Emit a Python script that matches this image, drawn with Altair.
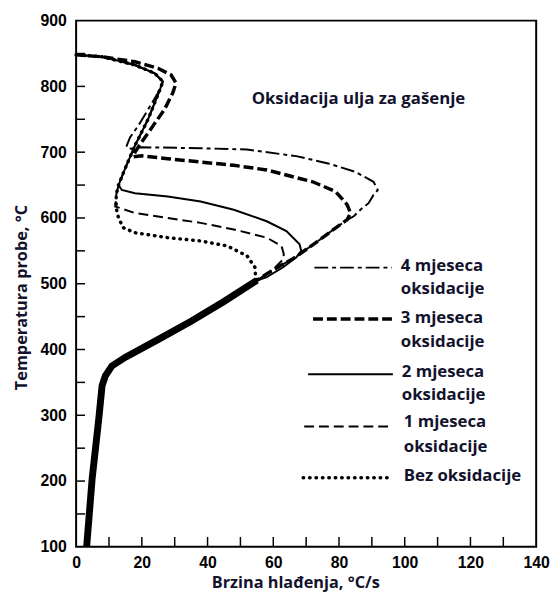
import altair as alt
import pandas as pd

# ---------------- data ----------------
X_LABELS = [0, 20, 40, 60, 80, 100, 120, 140]
Y_LABELS = [100, 200, 300, 400, 500, 600, 700, 800, 900]
X_MINOR = [10, 20, 30, 40, 50, 60, 70, 80, 90, 100, 110, 120, 130]
Y_MINOR = [150, 200, 250, 300, 350, 400, 450, 500, 550, 600, 650, 700, 750, 800, 850]

# common lower branch shared by all five curves
trunk_x = [3.2, 4.9, 6.9, 7.9, 8.9, 10.9, 14.9, 24.9, 35.0, 45.0, 55.0]
trunk_t = [100, 205, 295, 345, 360, 375, 388, 415, 443, 473, 505]

# 4 mjeseca oksidacije
m4_x = [0, 8, 17.9, 23.9, 26.4, 24.9, 21.9, 18.9, 16.4, 15.4, 15.9, 19.9, 37.9, 52, 67, 77, 85,
        90.5, 91.8, 90.5, 89, 86.5, 84.5, 82.5, 79, 75, 70, 66, 62, 58, 55]
m4_t = [848, 845, 832.5, 820, 807.5, 790, 765, 740, 722.5, 710, 705, 707.5, 706, 704, 694, 682.5, 670,
        655, 642.5, 635, 622.5, 612.5, 602.5, 597, 585, 570, 552, 538, 527, 515, 505]

# 3 mjeseca oksidacije
m3_x = [0, 7.9, 17.9, 24.9, 28.9, 30.4, 29.4, 26.9, 23.4, 19.9, 17.9, 17.4, 20, 27.9, 37.9, 48, 58,
        68, 72, 79, 82.5, 83.5, 82.5, 79, 75, 70, 66, 62, 58, 55]
m3_t = [848, 845, 837.5, 827.5, 817.5, 805, 790, 765, 740, 715, 700, 693, 694.5, 690, 685, 680, 673,
        660, 655, 640, 620, 607.5, 597.5, 585, 570, 552, 538, 527, 515, 505]

# 2 mjeseca oksidacije
m2_x = [0, 8, 17.9, 23.9, 26.4, 25.5, 21.9, 17.9, 14.9, 12.9, 13.9, 17.9, 27.9, 37.9, 48, 58, 64,
        68, 68.5, 67, 63, 58, 55]
m2_t = [848, 845, 832.5, 820, 807.5, 795, 750, 710, 675, 650, 642.5, 637.5, 632.5, 625, 612.5, 595, 580,
        560, 550, 540, 525, 510, 505]

# 1 mjeseca oksidacije
m1_x = [0, 8, 17.9, 23.9, 26.4, 25.5, 21.9, 17.9, 14.9, 12.9, 12.2, 11.9, 17.9, 27.9, 37.9, 48, 58,
        62.5, 63.2, 63, 60, 57, 55]
m1_t = [848, 845, 832.5, 820, 807.5, 795, 750, 710, 675, 650, 635, 617.5, 607.5, 600, 592.5, 582.5, 570,
        557.5, 545, 537, 522, 512, 505]

# Bez oksidacije
m0_x = [0, 8, 17.9, 23.9, 26.4, 25.5, 21.9, 17.9, 14.9, 12.9, 12.2, 12.2, 12.9, 14.4, 17.9, 27.9, 37.9,
        45.9, 52, 54.4, 54.6, 55]
m0_t = [848, 845, 832.5, 820, 807.5, 795, 750, 710, 675, 650, 635, 615, 600, 585, 577.5, 570, 565,
        557.5, 542.5, 525, 512, 505]

SERIES = ["4 mjeseca", "3 mjeseca", "2 mjeseca", "1 mjeseca", "Bez oksidacije"]
LEGEND_LINE1 = ["4 mjeseca", "3 mjeseca", "2 mjeseca", "1 mjeseca", "Bez oksidacije"]
LEGEND_LINE2 = ["oksidacije", "oksidacije", "oksidacije", "oksidacije", ""]
ANNOTATION = "Oksidacija ulja za gašenje"

# ---------------- layout / style ----------------
W, H = 466, 533
TEXT_FONT = "Open Sans"
TEXT_COLOR = "#12122c"
NUM_FONT = "Liberation Sans"

STYLES = {
    "4 mjeseca": dict(strokeWidth=2, strokeDash=[14, 4, 4, 4]),
    "3 mjeseca": dict(strokeWidth=3.5, strokeDash=[10, 4]),
    "2 mjeseca": dict(strokeWidth=2),
    "1 mjeseca": dict(strokeWidth=2, strokeDash=[10, 5]),
    "Bez oksidacije": dict(strokeWidth=3.5, strokeDash=[0.5, 6], strokeCap="round"),
}

# legend placement (data coordinates of the plot)
LEG_X1 = [72.5, 72.1, 70.6, 69.4, 69.1]
LEG_X2 = [96.1, 96.1, 96.4, 96.1, 94.9]
LEG_T = [524.5, 446.5, 362.5, 283.0, 205.0]
LEG_TX = [98.8, 98.8, 99.1, 99.7, 99.7]
LEG_T1 = [527.5, 448.5, 366.0, 289.0, 208.0]
LEG_T2 = [491.5, 411.0, 330.0, 251.5, None]
ANN_X, ANN_T = 85.9, 772.5

xscale = alt.Scale(domain=[0, 140], nice=False, zero=False)
yscale = alt.Scale(domain=[100, 900], nice=False, zero=False)

common_axis = dict(
    ticks=False, domain=False, grid=False, labelFlush=False, labelOverlap=False,
    labelFont=NUM_FONT, labelFontSize=16, labelFontWeight="bold", labelColor="black",
    titleFont=TEXT_FONT, titleFontSize=16.5, titleFontWeight="bold", titleColor=TEXT_COLOR,
    titleBaseline="alphabetic", titleAlign="center",
)

X = alt.X("x:Q", scale=xscale, axis=alt.Axis(
    values=X_LABELS, title="Brzina hlađenja, °C/s", labelPadding=8,
    titleX=222, titleY=41, **common_axis))
Y = alt.Y("t:Q", scale=yscale, axis=alt.Axis(
    values=Y_LABELS, title="Temperatura probe, °C", labelPadding=10,
    titleX=-50, titleY=280, titleAngle=270, **common_axis))


def curve(xs, ts):
    return pd.DataFrame({"x": xs, "t": ts, "i": list(range(len(xs)))})


layers = []

# inward ticks
layers.append(alt.Chart(pd.DataFrame({"x": X_MINOR})).mark_rule(color="black", strokeWidth=1.5).encode(
    x=X, y=alt.value(H), y2=alt.value(H - 10)))
layers.append(alt.Chart(pd.DataFrame({"t": Y_MINOR})).mark_rule(color="black", strokeWidth=1.5).encode(
    y=Y, x=alt.value(0), x2=alt.value(9)))

# trunk
layers.append(alt.Chart(curve(trunk_x, trunk_t)).mark_line(color="black", strokeWidth=7).encode(
    x=X, y=Y, order="i:Q"))

for name, xs, ts in [("4 mjeseca", m4_x, m4_t), ("3 mjeseca", m3_x, m3_t), ("2 mjeseca", m2_x, m2_t),
                     ("1 mjeseca", m1_x, m1_t), ("Bez oksidacije", m0_x, m0_t)]:
    layers.append(alt.Chart(curve(xs, ts)).mark_line(color="black", **STYLES[name]).encode(
        x=X, y=Y, order="i:Q"))

# legend samples
for k, name in enumerate(SERIES):
    d = pd.DataFrame({"x": [LEG_X1[k]], "x2": [LEG_X2[k]], "t": [LEG_T[k]]})
    layers.append(alt.Chart(d).mark_rule(color="black", **STYLES[name]).encode(
        x=X, x2="x2:Q", y=Y))

rows = []
for k in range(len(SERIES)):
    rows.append({"x": LEG_TX[k], "t": LEG_T1[k], "txt": LEGEND_LINE1[k]})
    if LEGEND_LINE2[k]:
        rows.append({"x": LEG_TX[k], "t": LEG_T2[k], "txt": LEGEND_LINE2[k]})
layers.append(alt.Chart(pd.DataFrame(rows)).mark_text(
    align="left", baseline="middle", font=TEXT_FONT, fontSize=17, fontWeight="bold", color=TEXT_COLOR
).encode(x=X, y=Y, text="txt:N"))

layers.append(alt.Chart(pd.DataFrame({"x": [ANN_X], "t": [ANN_T], "txt": [ANNOTATION]})).mark_text(
    align="center", baseline="alphabetic", font=TEXT_FONT, fontSize=17, fontWeight="bold", color=TEXT_COLOR
).encode(x=X, y=Y, text="txt:N"))

chart = alt.layer(*layers).properties(
    width=W, height=H,
    autosize=alt.AutoSizeParams(type="none"),
    padding={"left": 69, "top": 9, "right": 14, "bottom": 45},
    background="white",
).configure_view(stroke="black", strokeWidth=2)

chart.save("out.html", embed_options={"renderer": "svg", "actions": False})
